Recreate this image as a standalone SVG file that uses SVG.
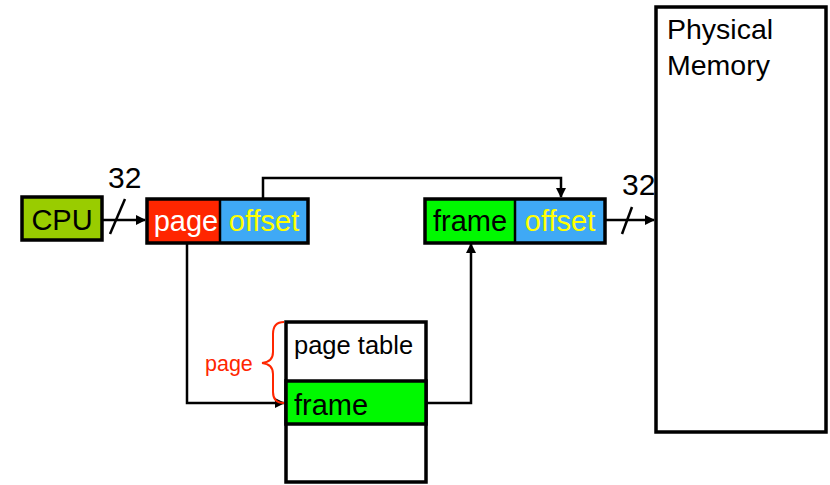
<svg xmlns="http://www.w3.org/2000/svg" width="830" height="485" viewBox="0 0 830 485">
<defs>
<style>
text{font-family:"Liberation Sans",Arial,sans-serif}
.box{stroke:#000;stroke-width:3.5}
.wire{fill:none;stroke:#000;stroke-width:2.5}
.t26{font-size:29px}
</style>
<marker id="ah" markerWidth="10" markerHeight="10" refX="9" refY="5" orient="auto" markerUnits="userSpaceOnUse">
<path d="M0,0 L10,5 L0,10 Z" fill="#000"/>
</marker>
</defs>
<rect width="830" height="485" fill="#fff"/>
<g id="connectors">
<path class="wire" d="M102,220 H145" marker-end="url(#ah)"/>
<line x1="110" y1="234" x2="125" y2="199" stroke="#000" stroke-width="2.5"/>
<text x="108" y="188" font-size="30">32</text>
<path class="wire" d="M263,198 V178 H561 V197" marker-end="url(#ah)"/>
<path class="wire" d="M606,220 H654" marker-end="url(#ah)"/>
<line x1="622" y1="234" x2="632" y2="207" stroke="#000" stroke-width="2.5"/>
<text x="622" y="195" font-size="30">32</text>
<path class="wire" d="M187,243 V403 H284" marker-end="url(#ah)"/>
<path class="wire" d="M425,403 H471 V244" marker-end="url(#ah)"/>
</g>
<g id="cpu">
<rect x="22" y="197" width="80" height="43" fill="#99cc00" class="box"/>
<text x="62" y="230" text-anchor="middle" class="t26">CPU</text>
</g>
<g id="virtual-address">
<rect x="147" y="199" width="73" height="44" fill="#ff2600"/>
<rect x="220" y="199" width="88" height="44" fill="#3fa9f5"/>
<rect x="147" y="199" width="161" height="44" fill="none" class="box"/>
<line x1="220" y1="199" x2="220" y2="243" stroke="#000" stroke-width="2.5"/>
<text x="186" y="231" text-anchor="middle" class="t26" fill="#fff">page</text>
<text x="264" y="231" text-anchor="middle" class="t26" fill="#ffff00">offset</text>
</g>
<g id="physical-address">
<rect x="425" y="199" width="90" height="44" fill="#00f900"/>
<rect x="515" y="199" width="90" height="44" fill="#3fa9f5"/>
<rect x="425" y="199" width="180" height="44" fill="none" class="box"/>
<line x1="515" y1="199" x2="515" y2="243" stroke="#000" stroke-width="2.5"/>
<text x="470" y="231" text-anchor="middle" class="t26">frame</text>
<text x="560" y="231" text-anchor="middle" class="t26" fill="#ffff00">offset</text>
</g>
<g id="page-table">
<rect x="286" y="322" width="140" height="160" fill="#fff" class="box"/>
<rect x="286" y="381" width="140" height="43" fill="#00f900" class="box"/>
<text x="294" y="354" font-size="25.5">page table</text>
<text x="294" y="415" font-size="29">frame</text>
</g>
<g id="page-brace">
<path d="M284,322 Q273,322 273,334 V352 Q273,362 262,363 Q273,364 273,374 V392 Q273,403 284,403" fill="none" stroke="#ff2600" stroke-width="2"/>
<text x="205" y="371" font-size="21.5" fill="#ff2600">page</text>
</g>
<g id="physical-memory">
<rect x="656" y="7" width="170" height="425" fill="#fff" class="box"/>
<text x="667" y="39" font-size="28.5">Physical</text>
<text x="667" y="75" font-size="28.5">Memory</text>
</g>
</svg>
